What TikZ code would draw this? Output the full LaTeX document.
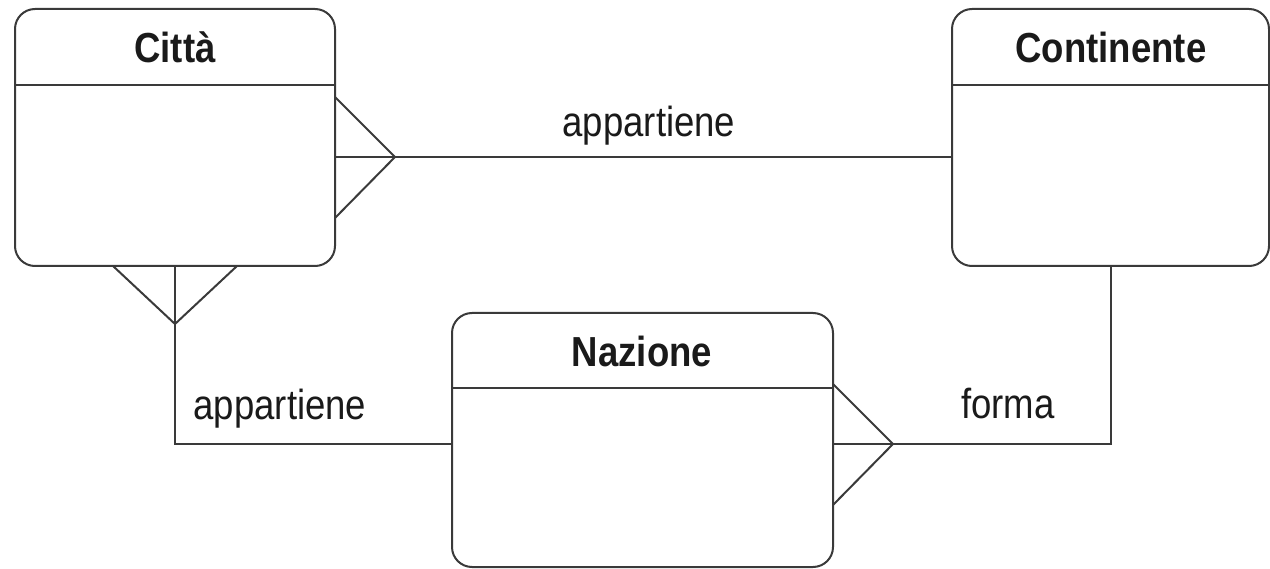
\documentclass[tikz,border=0pt]{standalone}
\usepackage{fontspec}
\setmainfont[FakeStretch=0.87]{Liberation Sans}
\definecolor{linegray}{HTML}{3A3A3A}
\definecolor{txt}{HTML}{1A1A1A}
\tikzset{
  entity/.style={draw=linegray, line width=2pt, rounded corners=20pt, inner sep=0pt, outer sep=0pt},
  conn/.style={draw=linegray, line width=2pt},
  title/.style={font=\bfseries\fontsize{42}{48}\selectfont, text=txt, anchor=base, inner sep=0pt},
  rel/.style={font=\fontsize{42}{48}\selectfont, text=txt, anchor=base, inner sep=0pt}
}
\begin{document}
\begin{tikzpicture}[x=1pt,y=-1pt]
\useasboundingbox (0,0) rectangle (1270,569);
% entities
\node[entity, minimum width=320pt, minimum height=257pt, anchor=north west] (citta) at (15,9) {};
\node[entity, minimum width=317pt, minimum height=257pt, anchor=north west] (cont) at (952,9) {};
\node[entity, minimum width=381pt, minimum height=254pt, anchor=north west] (naz) at (452,313) {};
% header separators
\draw[conn] (citta.west |- 0,85) -- (citta.east |- 0,85);
\draw[conn] (cont.west |- 0,85) -- (cont.east |- 0,85);
\draw[conn] (naz.west |- 0,388) -- (naz.east |- 0,388);
% titles
\node[title] (tcitta) at (175,63) {Città};
\node[title] (tcont) at (1111,63) {Continente};
\node[title] (tnaz) at (642,367) {Nazione};
% crow's foot Città -> Continente
\coordinate (cf1) at (395,157);
\draw[conn] (citta.east |- 0,97) -- (cf1) -- (citta.east |- 0,218);
\draw[conn] (citta.east |- cf1) -- (cont.west |- cf1);
% crow's foot Città -> Nazione
\coordinate (cf2) at (175,324);
\draw[conn] (citta.south -| 113,0) -- (cf2) -- (citta.south -| 237,0);
\draw[conn] (citta.south) |- (naz.west |- 0,444);
% crow's foot Nazione -> Continente
\coordinate (cf3) at (893,444);
\draw[conn] (naz.east |- 0,384) -- (cf3) -- (naz.east |- 0,505);
\draw[conn] (naz.east |- cf3) -| (cont.south);
% relationship labels
\node[rel] (r1) at (649,137) {appartiene};
\node[rel] (r2) at (280,420) {appartiene};
\node[rel] (r3) at (1008,419) {forma};
\end{tikzpicture}
\end{document}
